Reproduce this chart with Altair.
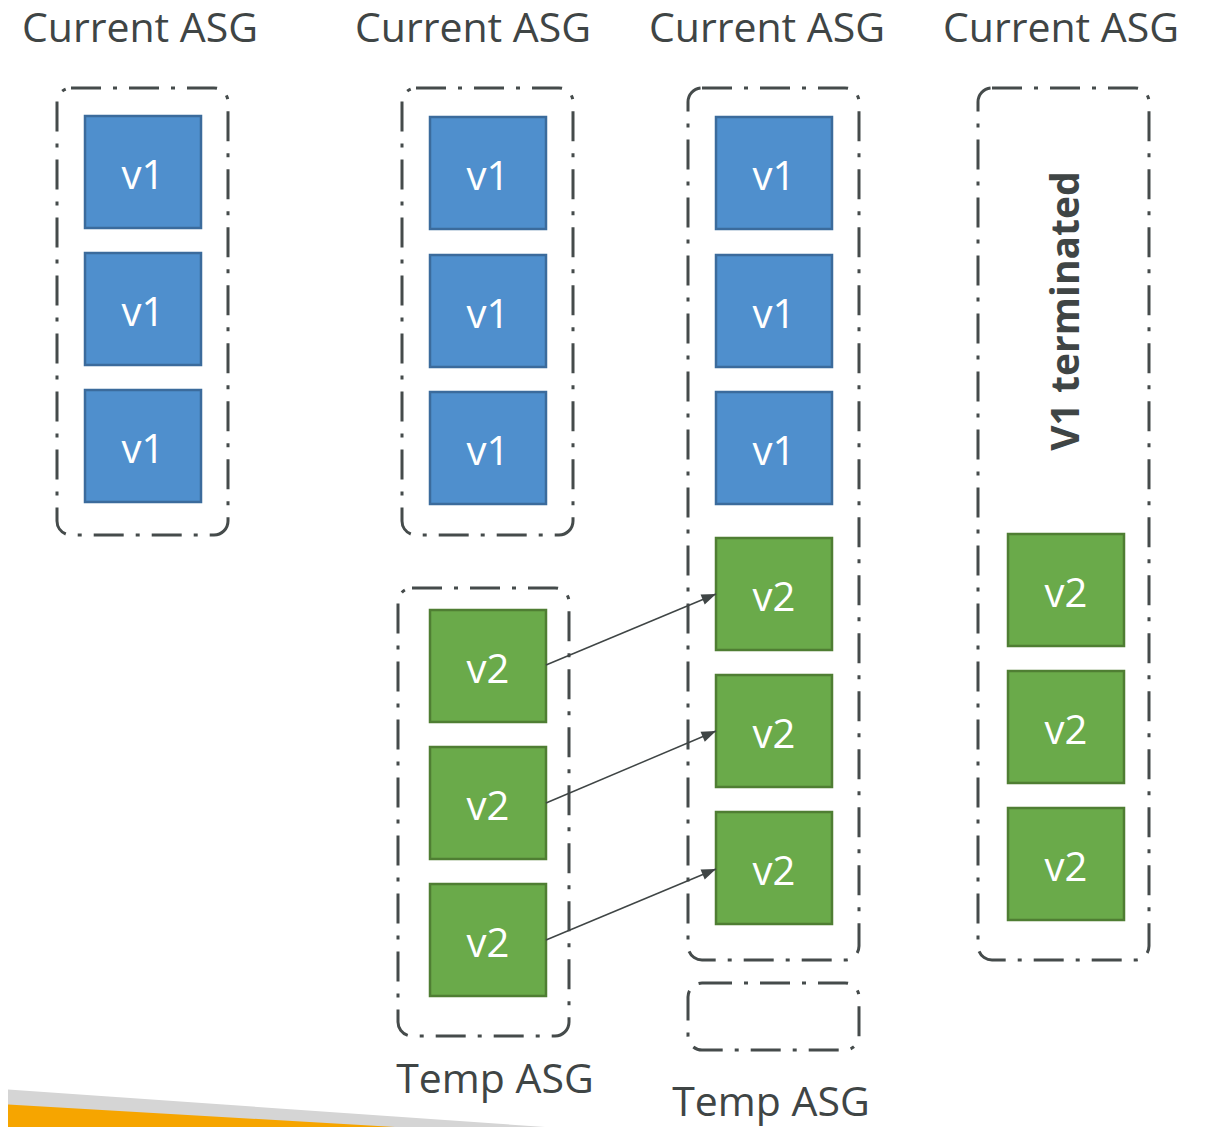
import math
import altair as alt
import pandas as pd

# ---------------- diagram content (page pixel coordinates) ----------------
title_text = ["Current ASG", "Current ASG", "Current ASG", "Current ASG"]
title_x = [140, 473, 767, 1061]
title_y = [30, 30, 30, 30]

temp_text = ["Temp ASG", "Temp ASG"]
temp_x = [495, 771]
temp_y = [1081, 1104]

# ASG containers (dash-dot rounded outlines)
grp_x1 = [57, 402, 398, 688, 688, 978]
grp_x2 = [228, 573, 569, 859, 859, 1149]
grp_y1 = [88, 88, 588, 88, 983, 88]
grp_y2 = [535, 535, 1036, 960, 1050, 960]

# instances
inst_label = ["v1"] * 9 + ["v2"] * 9
inst_x1 = [85] * 3 + [430] * 3 + [716] * 3 + [430] * 3 + [716] * 3 + [1008] * 3
inst_y1 = [116, 253, 390, 117, 255, 392, 117, 255, 392,
           610, 747, 884, 538, 675, 812, 534, 671, 808]
inst_w = 116
inst_h = 112

# arrows from temp ASG to current ASG
arr_x1 = [546, 546, 546]
arr_y1 = [665, 803, 940]
arr_x2 = [716, 716, 716]
arr_y2 = [594, 731, 869]

# rotated label
term_text = ["V1 terminated"]
term_x = [1067]
term_y = [311]

# decorative stripes bottom-left
stripe_name = ["gray", "gray", "orange", "orange"]
stripe_x = [0, 545, 0, 395]
stripe_top = [1089, 1127, 1104, 1127]
stripe_bottom = [1127, 1127, 1127, 1127]

# ---------------- build tables ----------------
TEXT_SHIFT = 5  # font's visual centre sits below the em-box middle
titles = pd.DataFrame({"t": title_text + temp_text,
                       "x": title_x + temp_x,
                       "y": title_y + temp_y})
groups = pd.DataFrame({"x1": grp_x1, "x2": grp_x2, "y1": grp_y1, "y2": grp_y2})
inst = pd.DataFrame({"v": inst_label, "x1": inst_x1, "y1": inst_y1})
inst["x2"] = inst["x1"] + inst_w
inst["y2"] = inst["y1"] + inst_h
inst["cx"] = inst["x1"] + inst_w / 2
inst["cy"] = inst["y1"] + inst_h / 2 + TEXT_SHIFT

arrows = pd.DataFrame({"x1": arr_x1, "y1": arr_y1, "x2": arr_x2, "y2": arr_y2})
arrows["ang"] = [
    (math.degrees(math.atan2(b2 - b1, a2 - a1))) % 360
    for a1, b1, a2, b2 in zip(arr_x1, arr_y1, arr_x2, arr_y2)
]
term = pd.DataFrame({"t": term_text, "x": term_x, "y": term_y})
stripes = pd.DataFrame({"s": stripe_name, "x": stripe_x,
                        "y": stripe_top, "y2": stripe_bottom})

W, H = 1191, 1119
X0, Y0 = 8, 8
xs = alt.Scale(domain=[X0, X0 + W], nice=False, zero=False)
ys = alt.Scale(domain=[Y0, Y0 + H], nice=False, zero=False, reverse=True)
X = lambda f: alt.X(f, type="quantitative", scale=xs, axis=None)
Y = lambda f: alt.Y(f, type="quantitative", scale=ys, axis=None)

FONT = "Open Sans"
TXT = "#3f4545"

stripe_layers = []
for nm, col in [("gray", "#d5d5d5"), ("orange", "#f6a500")]:
    stripe_layers.append(
        alt.Chart(stripes).transform_filter(alt.datum.s == nm)
        .mark_area(color=col, opacity=1)
        .encode(x=X("x"), y=Y("y"), y2="y2")
    )

group_layer = alt.Chart(groups).mark_rect(
    fillOpacity=0, stroke="#454b4b", strokeWidth=3,
    strokeDash=[30, 12, 4, 12], cornerRadius=14
).encode(x=X("x1"), x2="x2", y=Y("y1"), y2="y2")

inst_layer = alt.Chart(inst).mark_rect(strokeWidth=2.5).encode(
    x=X("x1"), x2="x2", y=Y("y1"), y2="y2",
    fill=alt.Fill("v:N", scale=alt.Scale(domain=["v1", "v2"], range=["#4f8fcd", "#6aaa4a"]), legend=None),
    stroke=alt.Stroke("v:N", scale=alt.Scale(domain=["v1", "v2"], range=["#3b6b9c", "#4f7e33"]), legend=None),
)

inst_text = alt.Chart(inst).mark_text(
    font=FONT, fontSize=40, color="white", baseline="middle", align="center"
).encode(x=X("cx"), y=Y("cy"), text="v:N")

arrow_lines = alt.Chart(arrows).mark_rule(color="#3f4545", strokeWidth=1.5).encode(
    x=X("x1"), x2="x2", y=Y("y1"), y2="y2"
)
arrow_heads = alt.Chart(arrows).mark_point(
    shape="M0,0L-2,-0.75L-2,0.75Z", size=210, filled=True, color="#3f4545", opacity=1
).encode(x=X("x2"), y=Y("y2"), angle=alt.Angle("ang:Q", scale=None))

title_layer = alt.Chart(titles).mark_text(
    font=FONT, fontSize=41, color=TXT, baseline="middle", align="center"
).encode(x=X("x"), y=Y("y"), text="t:N")

term_layer = alt.Chart(term).mark_text(
    font=FONT, fontSize=39, fontWeight="bold", color=TXT, angle=270,
    baseline="middle", align="center"
).encode(x=X("x"), y=Y("y"), text="t:N")

chart = alt.layer(
    *stripe_layers, group_layer, inst_layer, inst_text,
    arrow_lines, arrow_heads, title_layer, term_layer
).properties(
    width=W, height=H, padding=0, autosize="none", background="white"
).configure_view(stroke=None)

chart.save("out.html", embed_options={"renderer": "svg", "actions": False})
